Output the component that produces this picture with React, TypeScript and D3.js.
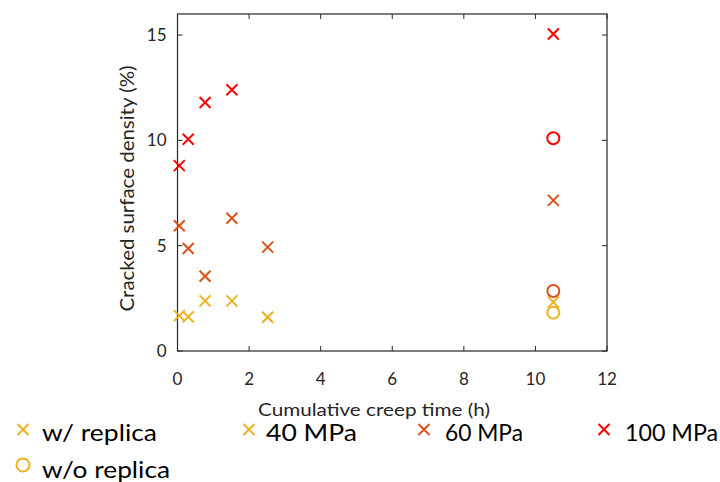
import React from "react";
import * as d3 from "d3";

const xTicks = [0, 2, 4, 6, 8, 10, 12];
const yTicks = [0, 5, 10, 15];

const timeW = [0.05, 0.3, 0.77, 1.52, 2.52, 10.5];
const mpa40 = [1.68, 1.62, 2.38, 2.38, 1.6, 2.32];
const mpa60 = [5.95, 4.87, 3.55, 6.3, 4.93, 7.15];
const timeR = [0.05, 0.3, 0.77, 1.52, 10.5];
const mpa100 = [8.8, 10.05, 11.8, 12.4, 15.05];

const woTime = [10.5, 10.5, 10.5];
const woValues = [1.82, 2.85, 10.1];
const woColors = ["#EDB120", "#D95319", "#FF0000"];

const seriesNames = ["40 MPa", "60 MPa", "100 MPa"];
const seriesColors = ["#EDB120", "#D95319", "#FF0000"];

const W = 720, H = 482;
const m = { left: 177.5, right: 607, top: 14, bottom: 351 };
const FONT = "Lato, 'Open Sans', sans-serif";
const AX = "#262626";

function Cross({ x, y, c, s = 5.5 }: { x: number; y: number; c: string; s?: number }) {
  return (
    <path d={`M${x - s},${y - s}L${x + s},${y + s}M${x - s},${y + s}L${x + s},${y - s}`} stroke={c} strokeWidth={2} fill="none" />
  );
}

export default function App() {
  const x = d3.scaleLinear().domain([0, 12]).range([m.left, m.right]);
  const y = d3.scaleLinear().domain([0, 16]).range([m.bottom, m.top]);
  const series = [
    { t: timeW, v: mpa40 },
    { t: timeW, v: mpa60 },
    { t: timeR, v: mpa100 },
  ];
  const legendItems = [
    { mx: 23, tx: 42, tw: 115, label: "w/ replica", c: "#EDB120" },
    { mx: 249, tx: 266, tw: 91, label: seriesNames[0], c: seriesColors[0] },
    { mx: 424, tx: 445, tw: 78, label: seriesNames[1], c: seriesColors[1] },
    { mx: 604, tx: 625, tw: 93, label: seriesNames[2], c: seriesColors[2] },
  ];
  return (
    <svg width={W} height={H} style={{ position: "absolute", left: 0, top: 0, background: "#fff" }} fontFamily={FONT}>
      <rect x={0} y={0} width={W} height={H} fill="#fff" />
      {xTicks.map((t) => (
        <g key={"x" + t}>
          <line x1={x(t)} x2={x(t)} y1={m.bottom} y2={m.bottom - 5} stroke={AX} />
          <line x1={x(t)} x2={x(t)} y1={m.top} y2={m.top + 5} stroke={AX} />
          <text x={x(t)} y={m.bottom + 34} textAnchor="middle" fontSize={17} fill={AX}>{t}</text>
        </g>
      ))}
      {yTicks.map((t) => (
        <g key={"y" + t}>
          <line x1={m.left} x2={m.left + 5} y1={y(t)} y2={y(t)} stroke={AX} />
          <line x1={m.right} x2={m.right - 5} y1={y(t)} y2={y(t)} stroke={AX} />
          <text x={m.left - 11} y={y(t) + 6} textAnchor="end" fontSize={17} fill={AX}>{t}</text>
        </g>
      ))}
      <rect x={m.left} y={m.top} width={m.right - m.left} height={m.bottom - m.top} fill="none" stroke={AX} strokeWidth={1.2} />
      <text x={374} y={415.5} textAnchor="middle" fontSize={18} fill={AX} textLength={232} lengthAdjust="spacingAndGlyphs">Cumulative creep time (h)</text>
      <text transform={`translate(134,${(y(0) + y(16)) / 2 + 6}) rotate(-90)`} textAnchor="middle" fontSize={18.5} fill={AX} textLength={246} lengthAdjust="spacingAndGlyphs">Cracked surface density (%)</text>
      {series.map((s, i) =>
        s.t.map((t, j) => <Cross key={i + "-" + j} x={x(t)} y={y(s.v[j])} c={seriesColors[i]} />)
      )}
      {woTime.map((t, i) => (
        <circle key={"o" + i} cx={x(t)} cy={y(woValues[i])} r={6} fill="none" stroke={woColors[i]} strokeWidth={2} />
      ))}
      {legendItems.map((it) => (
        <g key={it.label}>
          <Cross x={it.mx} y={429.5} c={it.c} s={5.5} />
          <text x={it.tx} y={440.5} fontSize={23} fill="#000" textLength={it.tw} lengthAdjust="spacingAndGlyphs">{it.label}</text>
        </g>
      ))}
      <circle cx={23} cy={465} r={6.5} fill="none" stroke="#EDB120" strokeWidth={2} />
      <text x={42} y={477.5} fontSize={23} fill="#000" textLength={128} lengthAdjust="spacingAndGlyphs">w/o replica</text>
    </svg>
  );
}
